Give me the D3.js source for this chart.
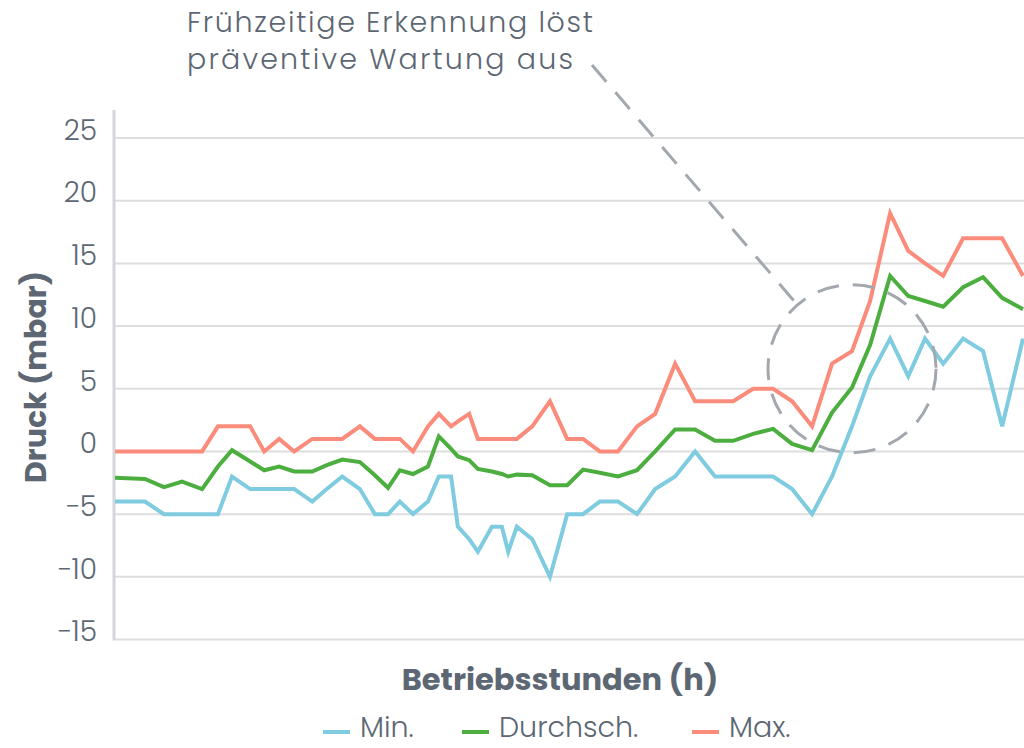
<!DOCTYPE html>
<html><head><meta charset="utf-8">
<script src="https://cdn.jsdelivr.net/npm/d3@7"></script>
<style>
body{margin:0;background:#fff;}
svg{display:block;}
text{font-family:Poppins,Lato,"Open Sans",sans-serif;}
</style>
</head><body><svg id="c" width="1024" height="748"></svg>
<script>
const hours = [0,6.6,10.8,14.8,19.2,22.7,25.8,29.8,32.9,36.2,39.5,43.5,46.7,50.1,54.0,57.3,60.2,62.8,65.7,69.0,71.4,74.1,75.6,78.1,80.0,83.1,85.3,86.7,88.6,92.0,95.9,99.7,103.2,106.9,110.9,115.1,119.1,123.5,127.9,132.3,136.3,140.7,145.1,149.3,153.7,158.1,162.5,166.5,170.9,174.9,178.6,182.6,187.0,191.4,195.6,200.2];
const minVals = [-4,-4,-5,-5,-5,-5,-2,-3,-3,-3,-3,-4,-3,-2,-3,-5,-5,-4,-5,-4,-2,-2,-6,-7,-8,-6,-6,-8,-6,-7,-10,-5,-5,-4,-4,-5,-3,-2,0,-2,-2,-2,-2,-3,-5,-2,2,6,9,6,9,7,9,8,2,9];
const avgVals = [-2.1,-2.2,-2.85,-2.4,-3.0,-1.2,0.1,-0.8,-1.5,-1.2,-1.6,-1.6,-1.1,-0.65,-0.85,-1.9,-2.9,-1.5,-1.8,-1.2,1.2,0.2,-0.4,-0.7,-1.4,-1.6,-1.8,-2.0,-1.85,-1.9,-2.7,-2.7,-1.45,-1.7,-2.0,-1.5,0,1.75,1.75,0.85,0.85,1.4,1.8,0.6,0.1,3.1,5.1,8.5,14,12.4,12,11.55,13.1,13.9,12.25,11.35];
const maxVals = [0,0,0,0,0,2,2,2,0,1,0,1,1,1,2,1,1,1,0,2,3,2,2.4,3,1,1,1,1,1,2,4,1,1,0,0,2,3,7,4,4,4,5,5,4,2,7,8,12,19,16,15,14,17,17,17,14];
const yTicks = [-15,-10,-5,0,5,10,15,20,25];
const seriesNames = ["Min.","Durchsch.","Max."];
const seriesColors = ["#7fcbdf","#4bae3f","#fb8c7c"];
const titleLines = ["Frühzeitige Erkennung löst","präventive Wartung aus"];
const yTitle = "Druck (mbar)";
const xTitle = "Betriebsstunden (h)";
const highlight = {h:162.5, v:6.6};

const svg = d3.select("#c");
const textCol = "#5c6773";
const x = d3.scaleLinear().domain([0,200.2]).range([115,1023]);
const y = d3.scaleLinear().domain([-15,25]).range([639.5,138]);

// gridlines
svg.append("g").selectAll("line").data(yTicks).join("line")
  .attr("x1",115).attr("x2",1024)
  .attr("y1",d=>y(d)).attr("y2",d=>y(d))
  .attr("stroke","#dedede").attr("stroke-width",2);

// y axis line
svg.append("line").attr("x1",114).attr("x2",114).attr("y1",110).attr("y2",y(-15)+1)
  .attr("stroke","#d3d6da").attr("stroke-width",3);

// tick labels
svg.append("g").selectAll("text").data(yTicks).join("text")
  .attr("x",97).attr("y",d=>y(d)-8).attr("dy","0.35em")
  .attr("text-anchor","end").attr("font-size",28).attr("font-weight",300)
  .attr("fill",textCol).text(d=>d<0?"\u2212"+Math.abs(d):d);

// lines
const series = [minVals,avgVals,maxVals];
const line = d3.line().x((d,i)=>x(hours[i])).y(d=>y(d));
series.forEach((s,k)=>{
  svg.append("path").datum(s).attr("d",line).attr("fill","none")
    .attr("stroke",seriesColors[k]).attr("stroke-width",4)
    .attr("stroke-linejoin","miter").attr("stroke-linecap","butt");
});

// annotation
const cx = x(highlight.h), cy = y(highlight.v), r = 84;
svg.append("circle").attr("cx",cx).attr("cy",cy).attr("r",r)
  .attr("fill","none").attr("stroke","#a3a8ae").attr("stroke-width",3)
  .attr("stroke-dasharray","22,14");
const lx0 = 592, ly0 = 65;
const ang = Math.atan2(ly0-cy, lx0-cx);
svg.append("line").attr("x1",lx0).attr("y1",ly0)
  .attr("x2",cx+r*Math.cos(ang)).attr("y2",cy+r*Math.sin(ang))
  .attr("stroke","#a3a8ae").attr("stroke-width",3).attr("stroke-dasharray","22,14");

const titleW = [406, 386];
svg.append("g").selectAll("text").data(titleLines).join("text")
  .attr("x",187).attr("y",(d,i)=>32+i*37)
  .attr("font-size",28.5).attr("font-weight",300).attr("fill",textCol)
  .attr("textLength",(d,i)=>titleW[i]).attr("lengthAdjust","spacing")
  .text(d=>d);

// axis titles
svg.append("text").attr("transform","translate(46,377) rotate(-90)")
  .attr("text-anchor","middle").attr("font-size",30).attr("font-weight",700)
  .attr("fill",textCol).text(yTitle);
svg.append("text").attr("x",560).attr("y",690).attr("text-anchor","middle")
  .attr("font-size",30.5).attr("font-weight",700).attr("fill",textCol).text(xTitle);

// legend
const legX = [323,462,692];
const lg = svg.append("g").selectAll("g").data(seriesNames).join("g");
lg.append("line").attr("x1",(d,i)=>legX[i]).attr("x2",(d,i)=>legX[i]+27)
  .attr("y1",732).attr("y2",732).attr("stroke",(d,i)=>seriesColors[i]).attr("stroke-width",4);
lg.append("text").attr("x",(d,i)=>legX[i]+37).attr("y",737)
  .attr("font-size",28.5).attr("font-weight",300).attr("fill",textCol).text(d=>d);
</script>
</body></html>
